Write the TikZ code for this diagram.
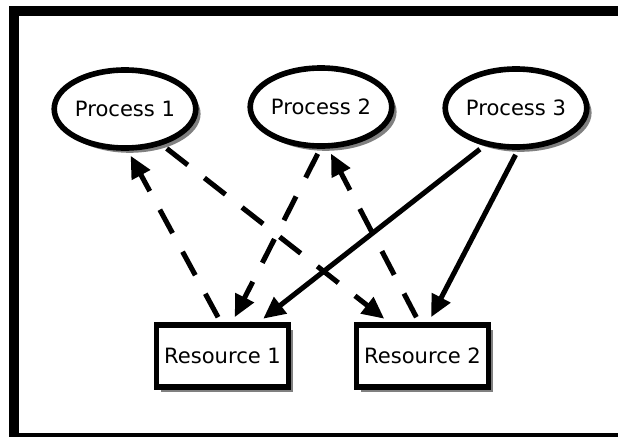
\documentclass[tikz,border=0pt]{standalone}
\usepackage{fontspec}
\setmainfont{DejaVu Sans}
\usetikzlibrary{shapes.geometric,arrows.meta,shadows}

\begin{document}
\begin{tikzpicture}[
        font=\fontsize{15}{18}\selectfont,
        proc/.style={ellipse,draw,line width=4pt,fill=white,inner sep=0pt,
            minimum width=3.2cm,minimum height=1.95cm,
            drop shadow={shadow xshift=0.12cm,shadow yshift=-0.12cm,fill=gray,opacity=1}},
        res/.style={rectangle,draw,line width=4pt,fill=white,
            minimum width=3.3cm,minimum height=1.55cm,
            drop shadow={shadow xshift=0.12cm,shadow yshift=-0.12cm,fill=gray,opacity=1}},
        link/.style={-{Triangle[length=0.55cm,width=0.5cm]},line width=3.6pt,
            shorten <=4pt,shorten >=4pt},
        dlink/.style={link,dash pattern=on 19pt off 15pt}
    ]
        \useasboundingbox (0,0) rectangle (15.45,10.9);
        \draw[line width=0.25cm] (0.3425,-0.04) rectangle (15.8,10.63);

        \node[proc] (p1) at (3.125,8.175) {Process 1};
        \node[proc] (p2) at (8.025,8.225) {Process 2};
        \node[proc] (p3) at (12.9,8.2) {Process 3};
        \node[res] (r1) at (5.5625,2) {Resource 1};
        \node[res] (r2) at (10.5625,2) {Resource 2};

        \draw[dlink] (r1.93) -- (p1.-86);
        \draw[dlink] (p1.-44) -- (r2.135);
        \draw[dlink] (p2.-91) -- (r1.74);
        \draw[dlink] (r2.96) -- (p2.-80);
        \draw[link] (p3.-130) -- (r1.43);
        \draw[link] (p3.-87) -- (r2.80);
    \end{tikzpicture}
\end{document}
